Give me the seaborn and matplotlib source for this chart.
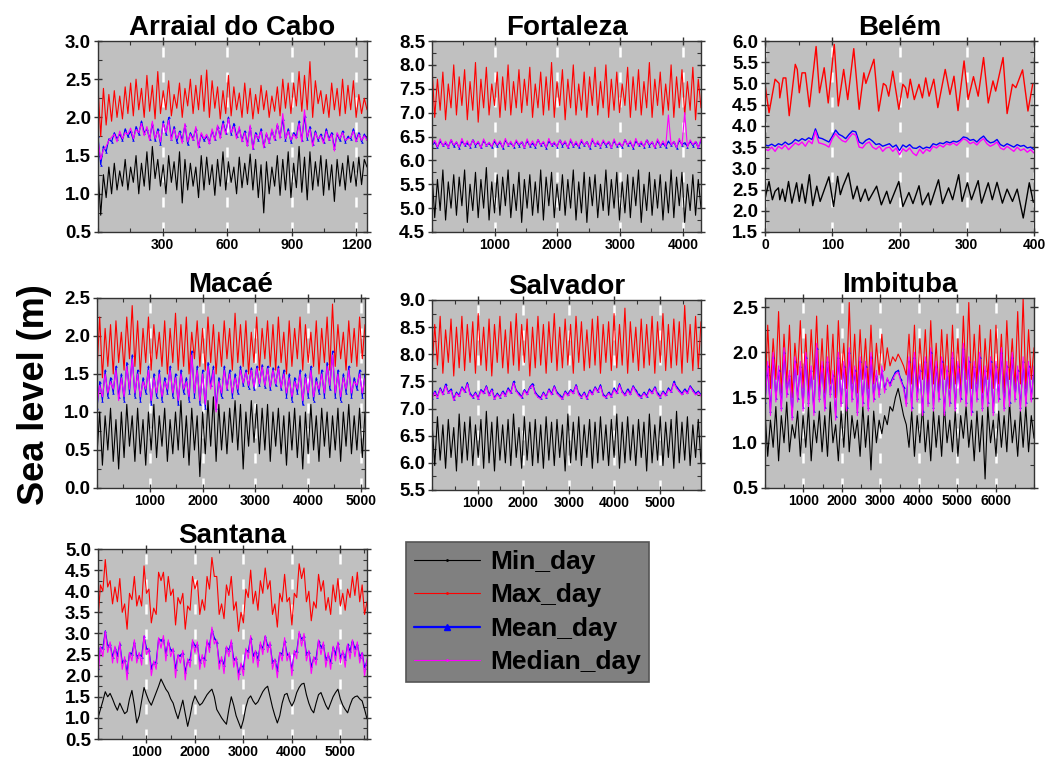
# -------------------------------
# sea_level_daily_stats.py
# -------------------------------

import matplotlib
matplotlib.use("Agg")
import numpy as np
import matplotlib.pyplot as plt
from matplotlib.lines import Line2D
from matplotlib.ticker import MultipleLocator, FormatStrFormatter
import seaborn as sns

# -------------------------------
# Data (read off the figure, sampled along each record)
# -------------------------------
LABELS = ["Min_day", "Max_day", "Mean_day", "Median_day"]

# Arraial do Cabo, ~1250 days
arraial_days = 1250
arraial_max = [2.40, 1.75, 2.38, 1.90, 2.30, 1.95, 2.35, 2.00, 2.28, 1.98, 2.40, 2.05, 2.45, 2.02, 2.50, 2.10, 2.38, 2.00, 2.55, 2.08,
               2.42, 1.98, 2.60, 2.05, 2.35, 2.10, 2.48, 2.02, 2.30, 2.12, 2.45, 2.00, 2.38, 2.15, 2.50, 2.05, 2.42, 2.10, 2.55, 2.08,
               2.62, 2.00, 2.48, 2.12, 2.40, 1.98, 2.35, 2.05, 2.55, 2.02, 2.40, 2.10, 2.32, 2.00, 2.45, 2.05, 2.38, 1.98, 2.30, 2.05,
               2.42, 2.10, 2.35, 2.00, 2.28, 2.08, 2.40, 2.02, 2.50, 2.12, 2.45, 2.05, 2.45, 2.15, 2.60, 2.08, 2.55, 2.10, 2.73, 2.00,
               2.48, 2.18, 2.35, 2.05, 2.30, 2.00, 2.45, 2.10, 2.38, 2.02, 2.50, 2.05, 2.42, 2.10, 2.48, 2.00, 2.30, 2.05, 2.25, 2.10]
arraial_min = [1.30, 0.72, 1.25, 0.95, 1.35, 1.00, 1.40, 1.05, 1.30, 1.10, 1.45, 1.05, 1.35, 1.15, 1.50, 1.00, 1.40, 1.10, 1.55, 1.05,
               1.62, 1.20, 1.45, 1.10, 1.38, 1.00, 1.50, 1.15, 1.42, 1.05, 1.55, 0.88, 1.45, 1.05, 1.40, 1.10, 1.35, 0.95, 1.50, 1.05,
               1.48, 1.12, 1.38, 0.98, 1.45, 1.10, 1.55, 1.05, 1.42, 1.15, 1.35, 1.00, 1.48, 1.08, 1.40, 1.12, 1.52, 1.05, 1.45, 0.95,
               1.38, 0.75, 1.42, 1.00, 1.35, 1.10, 1.50, 0.98, 1.45, 1.05, 1.55, 0.95, 1.40, 1.08, 1.62, 1.02, 1.48, 0.92, 1.55, 1.05,
               1.42, 1.10, 1.50, 0.98, 1.45, 1.05, 1.38, 0.90, 1.45, 1.10, 1.40, 1.05, 1.50, 1.15, 1.42, 1.10, 1.48, 1.12, 1.45, 1.35]
arraial_mean = [1.75, 1.38, 1.62, 1.55, 1.72, 1.68, 1.80, 1.72, 1.78, 1.70, 1.85, 1.75, 1.82, 1.70, 1.88, 1.78, 1.95, 1.80, 1.85, 1.72,
                1.92, 1.70, 1.85, 1.65, 1.95, 1.78, 2.00, 1.72, 1.88, 1.68, 1.82, 1.70, 1.90, 1.65, 1.80, 1.72, 1.85, 1.62, 1.78, 1.70,
                1.75, 1.68, 1.82, 1.72, 1.88, 1.75, 1.95, 1.80, 2.00, 1.78, 1.92, 1.75, 1.85, 1.70, 1.82, 1.65, 1.88, 1.60, 1.80, 1.70,
                1.85, 1.62, 1.78, 1.68, 1.82, 1.72, 1.90, 1.75, 1.98, 1.70, 1.85, 1.68, 1.80, 1.75, 1.95, 1.70, 2.02, 1.72, 1.88, 1.65,
                1.82, 1.70, 1.78, 1.68, 1.85, 1.72, 1.80, 1.60, 1.78, 1.70, 1.82, 1.68, 1.75, 1.72, 1.85, 1.70, 1.80, 1.68, 1.78, 1.72]
arraial_median = [1.70, 1.45, 1.58, 1.62, 1.70, 1.74, 1.78, 1.68, 1.82, 1.72, 1.80, 1.78, 1.86, 1.72, 1.84, 1.80, 1.92, 1.76, 1.88, 1.70,
                  1.95, 1.72, 1.82, 1.68, 1.92, 1.80, 1.96, 1.70, 1.85, 1.72, 1.80, 1.66, 1.92, 1.68, 1.78, 1.70, 1.88, 1.60, 1.80, 1.72,
                  1.78, 1.65, 1.85, 1.70, 1.90, 1.72, 1.92, 1.78, 1.98, 1.80, 1.88, 1.72, 1.88, 1.68, 1.80, 1.62, 1.90, 1.58, 1.78, 1.72,
                  1.82, 1.60, 1.80, 1.66, 1.85, 1.70, 1.92, 1.72, 2.05, 1.72, 1.82, 1.70, 1.78, 1.72, 1.92, 1.68, 2.10, 1.74, 1.85, 1.62,
                  1.80, 1.72, 1.76, 1.66, 1.82, 1.70, 1.78, 1.56, 1.80, 1.72, 1.80, 1.70, 1.72, 1.74, 1.82, 1.68, 1.78, 1.70, 1.76, 1.70]

# Fortaleza, ~4290 days
fortaleza_days = 4290
fortaleza_max = [7.95, 6.90, 7.70, 7.05, 7.85, 6.85, 7.60, 7.10, 8.00, 6.95, 7.75, 7.15, 7.90, 6.85, 7.65, 7.05, 8.05, 6.80, 7.70, 7.10,
                 7.95, 6.95, 7.60, 7.15, 7.85, 6.90, 7.75, 7.05, 8.00, 6.95, 7.65, 7.10, 7.90, 7.00, 7.70, 7.15, 7.95, 6.90, 7.60, 7.10,
                 7.85, 6.95, 7.75, 7.05, 8.05, 6.90, 7.65, 7.15, 7.90, 6.85, 7.70, 7.10, 8.00, 6.95, 7.60, 7.05, 7.85, 6.90, 7.75, 7.15,
                 7.95, 6.95, 7.65, 7.10, 8.00, 6.90, 7.70, 7.05, 7.85, 7.00, 7.60, 7.15, 7.95, 6.90, 7.75, 7.05, 7.90, 6.95, 7.65, 7.10,
                 8.05, 6.90, 7.70, 7.15, 7.85, 6.95, 7.60, 7.05, 8.00, 6.90, 7.75, 7.10, 7.90, 6.95, 7.65, 7.05, 7.95, 6.85, 7.70, 7.10]
fortaleza_min = [5.75, 4.80, 5.60, 4.95, 5.80, 4.75, 5.55, 5.00, 5.70, 4.85, 5.65, 5.05, 5.80, 4.70, 5.50, 4.95, 5.75, 4.80, 5.60, 5.00,
                 5.85, 4.75, 5.55, 4.90, 5.70, 4.85, 5.65, 5.05, 5.80, 4.80, 5.50, 4.95, 5.75, 4.70, 5.60, 5.00, 5.70, 4.85, 5.55, 4.90,
                 5.80, 4.75, 5.65, 5.05, 5.75, 4.80, 5.50, 4.95, 5.70, 4.85, 5.60, 5.00, 5.80, 4.75, 5.55, 4.90, 5.75, 4.70, 5.65, 5.05,
                 5.70, 4.80, 5.50, 4.95, 5.80, 4.85, 5.60, 5.00, 5.75, 4.75, 5.55, 4.90, 5.70, 4.80, 5.65, 5.05, 5.80, 4.70, 5.50, 4.95,
                 5.75, 4.85, 5.60, 5.00, 5.70, 4.75, 5.55, 4.90, 5.80, 4.80, 5.65, 5.05, 5.75, 4.70, 5.50, 4.95, 5.70, 4.85, 5.60, 5.00]
fortaleza_mean = [6.30, 6.38, 6.27, 6.40, 6.32, 6.36, 6.28, 6.42, 6.30, 6.38, 6.26, 6.40, 6.33, 6.37, 6.29, 6.43, 6.31, 6.38, 6.27, 6.41,
                  6.32, 6.36, 6.28, 6.40, 6.30, 6.39, 6.26, 6.42, 6.33, 6.37, 6.29, 6.40, 6.31, 6.38, 6.27, 6.41, 6.30, 6.36, 6.28, 6.43,
                  6.32, 6.38, 6.26, 6.40, 6.33, 6.37, 6.29, 6.42, 6.31, 6.38, 6.27, 6.41, 6.30, 6.36, 6.28, 6.40, 6.32, 6.39, 6.26, 6.42,
                  6.33, 6.37, 6.29, 6.40, 6.31, 6.38, 6.27, 6.41, 6.30, 6.36, 6.28, 6.43, 6.32, 6.38, 6.26, 6.40, 6.33, 6.37, 6.29, 6.42,
                  6.31, 6.38, 6.27, 6.41, 6.30, 6.36, 6.28, 6.40, 6.32, 6.39, 6.26, 6.42, 6.33, 6.37, 6.29, 6.40, 6.31, 6.38, 6.27, 6.41]
fortaleza_median = [6.33, 6.42, 6.28, 6.45, 6.30, 6.40, 6.26, 6.44, 6.32, 6.39, 6.27, 6.46, 6.31, 6.41, 6.28, 6.43, 6.33, 6.40, 6.26, 6.45,
                    6.30, 6.38, 6.29, 6.44, 6.32, 6.41, 6.27, 6.46, 6.31, 6.40, 6.28, 6.43, 6.33, 6.39, 6.26, 6.45, 6.30, 6.41, 6.29, 6.44,
                    6.32, 6.40, 6.27, 6.46, 6.31, 6.39, 6.28, 6.43, 6.33, 6.41, 6.26, 6.45, 6.30, 6.40, 6.29, 6.44, 6.32, 6.39, 6.27, 6.46,
                    6.31, 6.41, 6.28, 6.43, 6.33, 6.40, 6.26, 6.45, 6.30, 6.38, 6.29, 6.44, 6.32, 6.41, 6.27, 6.46, 6.31, 6.40, 6.28, 6.43,
                    6.33, 6.39, 6.26, 6.45, 6.30, 6.41, 6.29, 6.95, 6.32, 6.40, 6.27, 6.46, 6.31, 7.00, 6.28, 6.43, 6.33, 6.40, 6.26, 6.45]

# Belém, 400 days (max and min traced at their turning points)
belem_days = 400
belem_max_day = [0, 6, 15, 21, 22, 27, 31, 36, 45, 48, 51, 55, 60, 66, 76, 81, 88, 94, 103, 109, 117, 123, 132, 140, 147, 150,
                 162, 169, 176, 180, 184, 190, 199, 205, 209, 212, 216, 222, 229, 234, 239, 244, 251, 257, 268, 275, 281, 287,
                 296, 302, 310, 317, 325, 332, 339, 343, 354, 360, 368, 373, 383, 391, 398]
belem_max = [4.98, 4.31, 5.10, 5.00, 4.66, 5.13, 5.13, 4.24, 5.45, 5.33, 4.78, 5.25, 5.25, 4.45, 5.87, 4.78, 5.37, 4.54, 5.92, 4.47,
             5.33, 4.62, 5.82, 4.39, 5.25, 5.00, 5.57, 4.35, 5.00, 4.95, 4.70, 5.29, 4.39, 4.98, 4.90, 4.66, 5.10, 4.62, 4.98, 4.66,
             5.13, 4.70, 5.10, 4.43, 5.33, 4.74, 5.17, 4.36, 5.53, 4.62, 5.16, 4.70, 5.61, 4.54, 5.06, 4.82, 5.61, 4.29, 4.98, 4.90,
             5.32, 4.35, 4.98]
belem_min_day = [0, 6, 11, 15, 20, 22, 26, 30, 35, 40, 47, 51, 55, 60, 66, 71, 77, 82, 95, 102, 108, 112, 116, 124, 131, 137,
                 142, 149, 154, 166, 173, 181, 186, 199, 205, 214, 220, 229, 234, 243, 246, 258, 264, 273, 279, 288, 293, 301,
                 307, 317, 322, 332, 338, 345, 353, 360, 368, 375, 384, 393, 399]
belem_min = [2.29, 2.69, 2.26, 2.46, 2.54, 2.26, 2.51, 2.22, 2.69, 2.18, 2.66, 2.22, 2.63, 2.18, 2.85, 2.12, 2.58, 2.22, 2.80, 2.10,
             2.81, 2.38, 2.58, 2.89, 2.28, 2.58, 2.22, 2.51, 2.24, 2.58, 2.14, 2.46, 2.17, 2.69, 2.10, 2.43, 2.17, 2.59, 2.14, 2.42,
             2.14, 2.73, 2.17, 2.54, 2.26, 2.85, 2.22, 2.66, 2.26, 2.71, 2.18, 2.66, 2.26, 2.67, 2.18, 2.51, 2.22, 2.51, 1.83, 2.66,
             2.20]
belem_mean = [3.55, 3.53, 3.57, 3.52, 3.58, 3.55, 3.62, 3.56, 3.60, 3.68, 3.64, 3.70, 3.66, 3.72, 3.68, 3.93, 3.72, 3.70, 3.66, 3.62,
              3.75, 3.90, 3.80, 3.76, 3.70, 3.80, 3.88, 3.86, 3.62, 3.58, 3.66, 3.70, 3.64, 3.56, 3.58, 3.52, 3.55, 3.58, 3.50, 3.55,
              3.42, 3.55, 3.50, 3.56, 3.48, 3.47, 3.52, 3.46, 3.50, 3.48, 3.58, 3.55, 3.60, 3.58, 3.63, 3.60, 3.64, 3.62, 3.66, 3.74,
              3.72, 3.66, 3.68, 3.62, 3.70, 3.76, 3.66, 3.60, 3.62, 3.68, 3.56, 3.52, 3.58, 3.54, 3.50, 3.56, 3.52, 3.54, 3.48, 3.50,
              3.44]
belem_median = [3.45, 3.42, 3.50, 3.40, 3.52, 3.46, 3.55, 3.44, 3.52, 3.60, 3.55, 3.62, 3.52, 3.65, 3.58, 3.88, 3.60, 3.58, 3.55, 3.50,
                3.70, 3.82, 3.72, 3.65, 3.62, 3.72, 3.82, 3.78, 3.50, 3.48, 3.58, 3.62, 3.50, 3.45, 3.52, 3.40, 3.48, 3.50, 3.40, 3.48,
                3.32, 3.46, 3.40, 3.48, 3.36, 3.30, 3.45, 3.35, 3.45, 3.40, 3.52, 3.48, 3.55, 3.50, 3.58, 3.55, 3.60, 3.54, 3.62, 3.70,
                3.66, 3.58, 3.62, 3.55, 3.64, 3.70, 3.58, 3.52, 3.56, 3.62, 3.48, 3.44, 3.52, 3.46, 3.40, 3.50, 3.42, 3.46, 3.38, 3.44,
                3.36]

# Macaé, ~5080 days
macae_days = 5080
macae_max = [1.55, 2.25, 1.45, 2.10, 1.60, 2.15, 1.50, 2.20, 1.65, 2.05, 1.55, 2.25, 1.70, 2.40, 1.60, 2.20, 1.50, 2.10, 1.65, 2.25,
             1.55, 2.15, 1.70, 2.05, 1.60, 2.20, 1.50, 2.10, 1.65, 2.30, 1.55, 2.15, 1.60, 2.25, 1.50, 2.05, 1.70, 2.20, 1.60, 2.10,
             1.55, 2.25, 1.65, 2.15, 1.50, 2.05, 1.60, 2.20, 1.70, 2.10, 1.55, 2.30, 1.65, 2.15, 1.60, 2.20, 1.50, 2.05, 1.65, 2.25,
             1.55, 2.10, 1.70, 2.20, 1.60, 2.15, 1.55, 2.25, 1.65, 2.05, 1.50, 2.20, 1.60, 2.10, 1.70, 2.25, 1.55, 2.15, 1.65, 2.05,
             1.60, 2.20, 1.50, 2.10, 1.65, 2.25, 1.55, 2.42, 1.60, 2.15, 1.70, 2.05, 1.55, 2.20, 1.65, 2.10, 1.60, 2.25, 1.70, 2.15]
macae_min = [0.45, 1.00, 0.30, 0.95, 0.50, 1.05, 0.35, 0.90, 0.25, 1.00, 0.40, 1.10, 0.55, 0.95, 0.35, 1.05, 0.45, 0.90, 0.30, 1.00,
             0.50, 1.10, 0.40, 0.95, 0.55, 1.05, 0.35, 0.90, 0.45, 1.00, 0.50, 1.15, 0.40, 0.95, 0.30, 1.05, 0.50, 0.95, 0.15, 1.00,
             0.45, 1.15, 0.55, 1.20, 0.35, 1.10, 0.50, 1.00, 0.45, 1.05, 0.60, 1.15, 0.50, 1.10, 0.25, 1.00, 0.55, 1.15, 0.60, 1.10,
             0.45, 1.05, 0.50, 1.10, 0.35, 1.00, 0.55, 1.05, 0.45, 0.95, 0.30, 1.00, 0.50, 1.05, 0.40, 0.95, 0.25, 1.00, 0.45, 1.10,
             0.50, 0.95, 0.35, 1.05, 0.55, 1.00, 0.40, 0.95, 0.50, 1.05, 0.35, 1.00, 0.55, 1.10, 0.45, 0.95, 0.50, 1.05, 0.40, 1.00]
macae_mean = [1.05, 1.40, 1.15, 1.55, 1.20, 1.45, 1.25, 1.60, 1.20, 1.50, 1.15, 1.65, 1.25, 1.75, 1.20, 1.55, 1.15, 1.45, 1.25, 1.60,
              1.10, 1.50, 1.20, 1.55, 1.15, 1.45, 1.25, 1.60, 1.20, 1.50, 1.10, 1.55, 1.25, 1.45, 1.15, 1.80, 1.20, 1.60, 1.10, 1.55,
              1.05, 1.65, 1.35, 1.60, 1.05, 1.45, 1.20, 1.60, 1.30, 1.55, 1.20, 1.50, 1.25, 1.60, 1.35, 1.55, 1.32, 1.58, 1.30, 1.60,
              1.35, 1.62, 1.33, 1.60, 1.30, 1.58, 1.35, 1.60, 1.30, 1.55, 1.20, 1.50, 1.15, 1.45, 1.25, 1.55, 1.10, 1.50, 1.20, 1.60,
              1.15, 1.45, 1.25, 1.55, 1.20, 1.65, 1.30, 1.80, 1.20, 1.55, 1.15, 1.50, 1.25, 1.60, 1.20, 1.45, 1.30, 1.55, 1.20, 1.50]
macae_median = [1.10, 1.35, 1.20, 1.50, 1.25, 1.40, 1.30, 1.55, 1.15, 1.45, 1.20, 1.60, 1.30, 1.70, 1.25, 1.50, 1.20, 1.40, 1.30, 1.55,
                1.15, 1.45, 1.25, 1.50, 1.20, 1.40, 1.30, 1.55, 1.25, 1.45, 1.15, 1.50, 1.30, 1.40, 1.20, 1.75, 1.25, 1.55, 1.15, 1.50,
                1.10, 1.60, 1.30, 1.55, 1.00, 1.40, 1.25, 1.55, 1.30, 1.50, 1.25, 1.45, 1.30, 1.55, 1.38, 1.52, 1.35, 1.55, 1.33, 1.57,
                1.37, 1.59, 1.35, 1.57, 1.33, 1.55, 1.37, 1.57, 1.32, 1.50, 1.25, 1.45, 1.20, 1.40, 1.30, 1.50, 1.15, 1.45, 1.25, 1.55,
                1.20, 1.40, 1.30, 1.50, 1.25, 1.60, 1.35, 1.75, 1.25, 1.50, 1.20, 1.45, 1.30, 1.55, 1.25, 1.40, 1.35, 1.50, 1.25, 1.45]

# Salvador, ~5900 days
salvador_days = 5900
salvador_max = [7.70, 8.55, 7.80, 8.70, 7.65, 8.45, 7.85, 8.65, 7.60, 8.50, 7.75, 8.70, 7.70, 8.55, 7.85, 8.60, 7.65, 8.75, 7.80, 8.50,
                7.70, 8.65, 7.60, 8.55, 7.85, 8.70, 7.75, 8.45, 7.65, 8.60, 7.80, 8.75, 7.70, 8.55, 7.85, 8.65, 7.60, 8.50, 7.75, 8.70,
                7.80, 8.55, 7.65, 8.60, 7.85, 8.75, 7.70, 8.50, 7.75, 8.65, 7.80, 8.55, 7.65, 8.70, 7.85, 8.60, 7.70, 8.45, 7.75, 8.65,
                7.80, 8.70, 7.65, 8.55, 7.85, 8.60, 7.70, 8.75, 7.75, 8.55, 7.80, 8.85, 7.65, 8.60, 7.85, 8.50, 7.70, 8.65, 7.75, 8.55,
                7.80, 8.70, 7.65, 8.60, 7.85, 8.75, 7.70, 8.55, 7.75, 8.65, 7.80, 8.60, 7.65, 8.90, 7.85, 8.55, 7.70, 8.70, 7.75, 8.60]
salvador_min = [6.75, 5.95, 6.85, 6.05, 6.70, 5.90, 6.80, 6.10, 6.65, 5.85, 6.90, 6.00, 6.75, 6.05, 6.85, 5.95, 6.70, 6.10, 6.80, 5.90,
                6.95, 6.00, 6.75, 5.85, 6.85, 6.05, 6.70, 6.00, 6.80, 5.95, 6.90, 6.10, 6.65, 5.90, 6.85, 6.05, 6.75, 5.95, 6.80, 6.00,
                6.70, 5.90, 6.85, 6.05, 6.75, 5.95, 6.80, 6.10, 6.70, 5.85, 6.90, 6.00, 6.75, 6.05, 6.85, 5.95, 6.70, 6.10, 6.80, 5.90,
                6.75, 6.00, 6.85, 6.05, 6.70, 5.95, 6.80, 6.10, 6.90, 5.90, 6.75, 6.00, 6.85, 6.05, 6.70, 5.95, 6.80, 6.10, 6.75, 5.85,
                6.90, 6.00, 6.70, 6.05, 6.85, 5.95, 6.75, 6.10, 6.80, 5.90, 6.95, 6.00, 6.75, 6.05, 6.85, 5.95, 6.70, 6.10, 6.80, 6.00]
salvador_mean = [7.20, 7.32, 7.22, 7.38, 7.28, 7.45, 7.30, 7.36, 7.18, 7.30, 7.25, 7.40, 7.32, 7.48, 7.28, 7.22, 7.30, 7.20, 7.35, 7.30,
                 7.42, 7.26, 7.36, 7.20, 7.28, 7.22, 7.32, 7.25, 7.38, 7.30, 7.50, 7.34, 7.28, 7.22, 7.35, 7.28, 7.40, 7.46, 7.30, 7.24,
                 7.20, 7.30, 7.22, 7.36, 7.28, 7.42, 7.30, 7.25, 7.20, 7.32, 7.26, 7.35, 7.30, 7.44, 7.28, 7.22, 7.30, 7.20, 7.34, 7.28,
                 7.40, 7.32, 7.44, 7.26, 7.22, 7.30, 7.24, 7.38, 7.30, 7.46, 7.32, 7.26, 7.36, 7.28, 7.42, 7.34, 7.26, 7.22, 7.30, 7.24,
                 7.36, 7.30, 7.40, 7.28, 7.22, 7.32, 7.26, 7.38, 7.32, 7.50, 7.40, 7.34, 7.28, 7.36, 7.30, 7.42, 7.35, 7.28, 7.32, 7.26]
salvador_median = [7.18, 7.30, 7.20, 7.36, 7.25, 7.42, 7.28, 7.33, 7.15, 7.28, 7.22, 7.38, 7.30, 7.45, 7.25, 7.20, 7.28, 7.17, 7.33, 7.27,
                   7.40, 7.23, 7.34, 7.17, 7.26, 7.20, 7.30, 7.22, 7.35, 7.28, 7.47, 7.32, 7.25, 7.20, 7.33, 7.25, 7.38, 7.43, 7.27, 7.21,
                   7.17, 7.28, 7.20, 7.34, 7.25, 7.40, 7.27, 7.22, 7.17, 7.30, 7.23, 7.33, 7.27, 7.42, 7.25, 7.20, 7.28, 7.17, 7.32, 7.25,
                   7.38, 7.30, 7.41, 7.23, 7.20, 7.28, 7.21, 7.35, 7.27, 7.43, 7.30, 7.23, 7.33, 7.25, 7.40, 7.31, 7.23, 7.20, 7.28, 7.21,
                   7.33, 7.27, 7.38, 7.25, 7.20, 7.30, 7.23, 7.35, 7.30, 7.47, 7.37, 7.31, 7.25, 7.33, 7.27, 7.40, 7.32, 7.25, 7.30, 7.23]

# Imbituba, ~7000 days
imbituba_days = 7000
imbituba_max = [1.50, 2.30, 1.60, 2.15, 1.70, 2.45, 1.55, 2.20, 1.65, 2.30, 1.50, 2.10, 1.75, 2.35, 1.60, 2.20, 1.55, 2.25, 1.70, 2.40,
                1.60, 2.15, 1.55, 2.30, 1.65, 2.20, 1.50, 2.35, 1.70, 2.10, 1.60, 2.55, 1.65, 2.20, 1.55, 2.25, 1.70, 2.15, 1.60, 2.30,
                1.65, 2.10, 1.75, 2.20, 1.80, 2.05, 1.85, 1.95, 1.90, 1.98, 1.92, 1.85, 1.75, 2.20, 1.65, 2.30, 1.55, 2.15, 1.70, 2.25,
                1.60, 2.35, 1.65, 2.10, 1.55, 2.25, 1.70, 2.20, 1.60, 2.30, 1.65, 2.15, 1.55, 2.40, 1.70, 2.55, 1.60, 2.20, 1.65, 2.30,
                1.55, 2.15, 1.70, 2.25, 1.60, 2.30, 1.65, 2.20, 1.55, 2.35, 1.70, 2.15, 1.60, 2.45, 1.65, 2.60, 1.60, 2.25, 1.70, 2.05]
imbituba_min = [1.35, 0.85, 1.25, 0.95, 1.40, 0.80, 1.30, 1.00, 1.45, 0.90, 1.20, 1.05, 1.35, 0.85, 1.30, 0.95, 1.40, 0.80, 1.25, 1.00,
                1.35, 0.90, 1.30, 0.85, 1.45, 1.00, 1.20, 0.80, 1.35, 0.95, 1.50, 0.90, 1.30, 1.05, 1.25, 0.85, 1.40, 0.95, 1.30, 0.70,
                1.35, 1.00, 1.25, 1.10, 1.30, 1.20, 1.40, 1.35, 1.50, 1.60, 1.45, 1.30, 1.20, 0.95, 1.35, 0.85, 1.30, 1.00, 1.40, 0.90,
                1.25, 0.80, 1.35, 0.95, 1.30, 0.85, 1.40, 1.00, 1.25, 0.90, 1.35, 0.85, 1.30, 1.05, 1.40, 0.95, 1.25, 0.80, 1.35, 0.90,
                1.30, 0.60, 1.40, 1.00, 1.25, 0.85, 1.35, 0.95, 1.30, 0.90, 1.45, 1.00, 1.25, 0.85, 1.35, 0.95, 1.40, 0.90, 1.30, 1.05]
imbituba_mean = [1.45, 1.85, 1.35, 1.95, 1.50, 1.80, 1.40, 2.00, 1.55, 1.75, 1.30, 1.90, 1.50, 1.85, 1.40, 1.95, 1.45, 1.80, 1.35, 2.05,
                 1.50, 1.85, 1.40, 1.90, 1.55, 1.75, 1.30, 1.95, 1.45, 1.85, 1.40, 2.00, 1.50, 1.80, 1.35, 1.90, 1.45, 1.85, 1.40, 1.95,
                 1.50, 1.75, 1.55, 1.80, 1.60, 1.70, 1.65, 1.72, 1.78, 1.80, 1.70, 1.62, 1.45, 1.90, 1.40, 1.95, 1.50, 1.80, 1.35, 1.90,
                 1.45, 2.00, 1.40, 1.85, 1.50, 1.90, 1.35, 1.80, 1.45, 1.95, 1.40, 1.85, 1.50, 2.05, 1.45, 1.90, 1.35, 1.85, 1.50, 1.95,
                 1.40, 1.80, 1.45, 1.90, 1.35, 1.85, 1.50, 2.00, 1.40, 1.85, 1.45, 1.95, 1.50, 1.80, 1.40, 1.90, 1.45, 1.85, 1.50, 1.80]
imbituba_median = [1.40, 1.90, 1.30, 2.00, 1.45, 1.85, 1.35, 2.05, 1.50, 1.80, 1.25, 1.95, 1.45, 1.90, 1.35, 2.00, 1.40, 1.85, 1.30, 2.10,
                   1.45, 1.90, 1.35, 1.95, 1.50, 1.80, 1.25, 2.00, 1.40, 1.90, 1.35, 2.05, 1.45, 1.85, 1.30, 1.95, 1.40, 1.90, 1.35, 2.00,
                   1.45, 1.80, 1.50, 1.85, 1.55, 1.72, 1.62, 1.70, 1.76, 1.78, 1.68, 1.60, 1.40, 1.95, 1.35, 2.00, 1.45, 1.85, 1.30, 1.95,
                   1.40, 2.05, 1.35, 1.90, 1.45, 1.95, 1.30, 1.85, 1.40, 2.00, 1.35, 1.90, 1.45, 2.10, 1.40, 1.95, 1.30, 1.90, 1.45, 2.00,
                   1.35, 1.85, 1.40, 1.95, 1.30, 1.90, 1.45, 2.05, 1.35, 1.90, 1.40, 2.00, 1.45, 1.85, 1.35, 1.95, 1.40, 1.90, 1.45, 1.85]

# Santana, ~5560 days
santana_days = 5560
santana_max = [3.30, 4.15, 4.00, 4.75, 4.10, 4.25, 3.70, 4.10, 3.75, 4.30, 3.50, 3.70, 3.10, 3.95, 3.80, 4.35, 3.65, 3.90, 3.65, 4.60,
               3.95, 4.05, 3.25, 3.60, 3.45, 4.45, 4.25, 4.45, 3.75, 4.35, 3.90, 4.05, 3.20, 3.85, 3.70, 3.95, 3.10, 3.65, 3.55, 4.35,
               4.05, 4.25, 3.45, 3.80, 3.55, 4.35, 4.05, 4.80, 4.35, 4.35, 3.45, 3.70, 3.35, 4.15, 3.90, 4.35, 3.55, 3.75, 3.05, 3.50,
               3.25, 4.05, 3.85, 4.50, 3.70, 4.00, 3.55, 4.25, 3.95, 4.55, 4.05, 4.25, 3.45, 3.70, 3.15, 3.95, 3.75, 4.40, 3.75, 3.85,
               3.20, 3.95, 3.85, 4.65, 4.30, 4.55, 3.75, 4.00, 3.30, 3.75, 3.60, 4.40, 4.00, 4.25, 3.55, 3.85, 3.45, 4.15, 3.75, 4.30,
               3.65, 3.95, 3.55, 4.05, 3.85, 4.35, 3.90, 4.45, 3.75, 4.15, 3.45, 3.75]
santana_min = [1.00, 1.20, 1.40, 1.62, 1.50, 1.58, 1.45, 1.30, 1.18, 1.35, 1.22, 1.10, 1.15, 1.45, 1.65, 1.30, 0.88, 1.05, 1.40, 1.72,
               1.55, 1.40, 1.30, 1.45, 1.60, 1.75, 1.92, 1.80, 1.68, 1.60, 1.45, 1.35, 1.15, 0.98, 1.20, 1.42, 1.10, 0.80, 1.05, 1.35,
               1.52, 1.40, 1.30, 1.35, 1.45, 1.55, 1.62, 1.68, 1.50, 1.20, 1.10, 1.00, 0.92, 0.85, 1.20, 1.50, 1.30, 1.05, 0.90, 0.75,
               0.95, 1.25, 1.45, 1.52, 1.40, 1.32, 1.38, 1.50, 1.62, 1.70, 1.75, 1.50, 1.25, 1.05, 0.88, 1.05, 1.35, 1.55, 1.58, 1.40,
               1.28, 1.40, 1.60, 1.72, 1.80, 1.82, 1.55, 1.35, 1.20, 1.12, 1.35, 1.55, 1.60, 1.45, 1.30, 1.20, 1.35, 1.50, 1.60, 1.68,
               1.45, 1.30, 1.20, 1.12, 1.30, 1.45, 1.50, 1.52, 1.45, 1.40, 1.20, 0.98]
santana_mean = [2.18, 2.67, 2.65, 3.06, 2.71, 2.74, 2.45, 2.66, 2.48, 2.76, 2.32, 2.38, 2.09, 2.54, 2.52, 2.80, 2.45, 2.51, 2.45, 2.93,
                2.65, 2.61, 2.19, 2.31, 2.32, 2.87, 2.84, 2.87, 2.52, 2.80, 2.61, 2.61, 2.16, 2.48, 2.48, 2.54, 2.09, 2.35, 2.39, 2.80,
                2.71, 2.74, 2.32, 2.44, 2.39, 2.80, 2.71, 3.09, 2.90, 2.80, 2.32, 2.38, 2.26, 2.67, 2.61, 2.80, 2.39, 2.41, 2.06, 2.25,
                2.19, 2.61, 2.58, 2.90, 2.48, 2.57, 2.39, 2.74, 2.65, 2.93, 2.71, 2.74, 2.32, 2.38, 2.13, 2.54, 2.52, 2.83, 2.52, 2.48,
                2.16, 2.54, 2.58, 3.00, 2.87, 2.93, 2.52, 2.57, 2.22, 2.41, 2.42, 2.83, 2.68, 2.74, 2.39, 2.48, 2.32, 2.67, 2.52, 2.77,
                2.45, 2.54, 2.39, 2.74, 2.58, 2.83, 2.65, 2.74, 2.45, 2.54, 2.19, 2.35]
santana_median = [1.95, 2.70, 2.45, 3.05, 2.55, 2.80, 2.30, 2.70, 2.30, 2.80, 2.15, 2.45, 1.90, 2.55, 2.35, 2.85, 2.30, 2.55, 2.25, 2.95,
                  2.50, 2.65, 2.00, 2.35, 2.15, 2.90, 2.65, 2.95, 2.35, 2.85, 2.45, 2.65, 1.95, 2.50, 2.30, 2.60, 1.90, 2.40, 2.20, 2.85,
                  2.55, 2.80, 2.15, 2.50, 2.20, 2.85, 2.55, 3.15, 2.75, 2.85, 2.15, 2.45, 2.05, 2.70, 2.45, 2.85, 2.20, 2.45, 1.90, 2.30,
                  2.00, 2.65, 2.40, 2.95, 2.30, 2.60, 2.20, 2.80, 2.50, 2.95, 2.55, 2.80, 2.15, 2.40, 1.95, 2.55, 2.35, 2.90, 2.35, 2.55,
                  2.00, 2.60, 2.40, 3.05, 2.70, 3.00, 2.35, 2.60, 2.05, 2.45, 2.25, 2.85, 2.50, 2.80, 2.20, 2.55, 2.15, 2.70, 2.35, 2.80,
                  2.30, 2.60, 2.20, 2.75, 2.40, 2.85, 2.45, 2.80, 2.30, 2.55, 2.00, 2.40]

# -------------------------------
# Config
# -------------------------------
FIG_W, FIG_H = 1051, 758
BG = "#c0c0c0"
INK = "#000000"
COLORS = {"min": "#000000", "max": "#ff0000", "mean": "#0000ff", "median": "#ff00ff"}


def even_days(n_days, values):
    """Day index for values sampled evenly along a record."""
    return np.linspace(0, n_days, len(values))


def box(left, top, right, bottom):
    """Pixel box -> figure fraction rect."""
    return [left / FIG_W, 1 - bottom / FIG_H, (right - left) / FIG_W, (bottom - top) / FIG_H]


PANELS = [
    dict(title="Arraial do Cabo", rect=box(98, 41, 367, 232), xlim=(0, 1250), ylim=(0.5, 3.0),
         xticks=[300, 600, 900, 1200], xminor=150,
         series=[(even_days(arraial_days, arraial_min), arraial_min),
                 (even_days(arraial_days, arraial_max), arraial_max),
                 (even_days(arraial_days, arraial_mean), arraial_mean),
                 (even_days(arraial_days, arraial_median), arraial_median)]),
    dict(title="Fortaleza", rect=box(432, 41, 701, 232), xlim=(0, 4290), ylim=(4.5, 8.5),
         xticks=[1000, 2000, 3000, 4000], xminor=500,
         series=[(even_days(fortaleza_days, fortaleza_min), fortaleza_min),
                 (even_days(fortaleza_days, fortaleza_max), fortaleza_max),
                 (even_days(fortaleza_days, fortaleza_mean), fortaleza_mean),
                 (even_days(fortaleza_days, fortaleza_median), fortaleza_median)]),
    dict(title="Belém", rect=box(765, 41, 1034, 232), xlim=(0, 400), ylim=(1.5, 6.0),
         xticks=[0, 100, 200, 300, 400], xminor=50,
         series=[(belem_min_day, belem_min),
                 (belem_max_day, belem_max),
                 (even_days(belem_days, belem_mean), belem_mean),
                 (even_days(belem_days, belem_median), belem_median)]),
    dict(title="Macaé", rect=box(97, 298, 365, 488), xlim=(0, 5080), ylim=(0.0, 2.5),
         xticks=[1000, 2000, 3000, 4000, 5000], xminor=500,
         series=[(even_days(macae_days, macae_min), macae_min),
                 (even_days(macae_days, macae_max), macae_max),
                 (even_days(macae_days, macae_mean), macae_mean),
                 (even_days(macae_days, macae_median), macae_median)]),
    dict(title="Salvador", rect=box(432, 300, 701, 490), xlim=(0, 5900), ylim=(5.5, 9.0),
         xticks=[1000, 2000, 3000, 4000, 5000], xminor=500,
         series=[(even_days(salvador_days, salvador_min), salvador_min),
                 (even_days(salvador_days, salvador_max), salvador_max),
                 (even_days(salvador_days, salvador_mean), salvador_mean),
                 (even_days(salvador_days, salvador_median), salvador_median)]),
    dict(title="Imbituba", rect=box(765, 298, 1034, 488), xlim=(0, 7000), ylim=(0.5, 2.6),
         xticks=[1000, 2000, 3000, 4000, 5000, 6000], xminor=500,
         series=[(even_days(imbituba_days, imbituba_min), imbituba_min),
                 (even_days(imbituba_days, imbituba_max), imbituba_max),
                 (even_days(imbituba_days, imbituba_mean), imbituba_mean),
                 (even_days(imbituba_days, imbituba_median), imbituba_median)]),
    dict(title="Santana", rect=box(98, 549, 367, 739), xlim=(0, 5560), ylim=(0.5, 5.0),
         xticks=[1000, 2000, 3000, 4000, 5000], xminor=500,
         series=[(even_days(santana_days, santana_min), santana_min),
                 (even_days(santana_days, santana_max), santana_max),
                 (even_days(santana_days, santana_mean), santana_mean),
                 (even_days(santana_days, santana_median), santana_median)]),
]


# -------------------------------
# Functions
# -------------------------------

def style_axes(ax, p):
    ax.set_facecolor(BG)
    ax.set_xlim(*p["xlim"])
    ax.set_ylim(*p["ylim"])
    ax.set_xticks(p["xticks"])
    ax.xaxis.set_minor_locator(MultipleLocator(p["xminor"]))
    ax.yaxis.set_major_locator(MultipleLocator(0.5))
    ax.yaxis.set_minor_locator(MultipleLocator(0.25))
    ax.yaxis.set_major_formatter(FormatStrFormatter("%.1f"))
    ax.tick_params(axis="both", which="major", direction="inout", length=6, width=1,
                   top=True, right=True, color="#333333", labelcolor=INK)
    ax.tick_params(axis="both", which="minor", direction="in", length=3, width=0.8,
                   top=True, right=True, color="#333333")
    ax.tick_params(axis="y", labelsize=13.5, pad=2)
    ax.tick_params(axis="x", labelsize=10, pad=1)
    for lab in ax.get_xticklabels() + ax.get_yticklabels():
        lab.set_fontweight("bold")
    ax.grid(axis="x", which="major", color="white", linestyle=(0, (4, 6)), linewidth=1.8)
    ax.grid(axis="y", visible=False)
    ax.set_axisbelow(True)
    for sp in ax.spines.values():
        sp.set_color("#333333")
        sp.set_linewidth(1.0)
    ax.set_title(p["title"], fontsize=20, fontweight="bold", pad=3, color=INK)
    ax.set_xlabel("")
    ax.set_ylabel("")


def draw_panel(ax, p):
    smooth = p["title"] == "Belém"
    lw = 1.0 if smooth else 0.8
    (xm, ym), (xM, yM), (xa, ya), (xd, yd) = p["series"]
    sns.lineplot(x=xm, y=ym, ax=ax, color=COLORS["min"], linewidth=lw,
                 estimator=None, sort=False, legend=False)
    sns.lineplot(x=xM, y=yM, ax=ax, color=COLORS["max"], linewidth=lw,
                 estimator=None, sort=False, legend=False)
    sns.lineplot(x=xa, y=ya, ax=ax, color=COLORS["mean"], linewidth=lw,
                 marker=None if smooth else "^", markersize=1.8, markeredgewidth=0,
                 estimator=None, sort=False, legend=False)
    sns.lineplot(x=xd, y=yd, ax=ax, color=COLORS["median"], linewidth=lw,
                 estimator=None, sort=False, legend=False)
    style_axes(ax, p)


def add_legend(fig):
    handles = [
        Line2D([], [], color=COLORS["min"], lw=0.8, marker=".", markersize=2),
        Line2D([], [], color=COLORS["max"], lw=0.8, marker=".", markersize=2),
        Line2D([], [], color=COLORS["mean"], lw=1.6, marker="^", markersize=5),
        Line2D([], [], color=COLORS["median"], lw=0.8, marker=".", markersize=2),
    ]
    leg = fig.legend(handles, LABELS, loc="upper left",
                     bbox_to_anchor=(406 / FIG_W, 1 - 542 / FIG_H),
                     frameon=True, fancybox=False, framealpha=1,
                     facecolor="#808080", edgecolor="#555555",
                     prop={"weight": "bold", "size": 19},
                     handlelength=2.5, handletextpad=0.4, labelspacing=0.36,
                     borderpad=0.3, borderaxespad=0)
    leg.get_frame().set_linewidth(1.2)
    for t in leg.get_texts():
        t.set_color(INK)


# -------------------------------
# Main Workflow
# -------------------------------

def main():
    sns.set_style("ticks")
    plt.rcParams["font.family"] = ["Liberation Sans", "DejaVu Sans"]
    plt.rcParams["font.weight"] = "bold"
    plt.rcParams["text.color"] = INK
    plt.rcParams["xtick.color"] = INK
    plt.rcParams["ytick.color"] = INK

    fig = plt.figure(figsize=(FIG_W / 100, FIG_H / 100), dpi=100)
    for p in PANELS:
        ax = fig.add_axes(p["rect"])
        draw_panel(ax, p)

    fig.text(35 / FIG_W, 1 - 395 / FIG_H, "Sea level (m)", rotation=90,
             ha="center", va="center", fontsize=26, fontweight="bold", color=INK)
    add_legend(fig)

    fig.savefig("out.png", dpi=100)


if __name__ == "__main__":
    main()
